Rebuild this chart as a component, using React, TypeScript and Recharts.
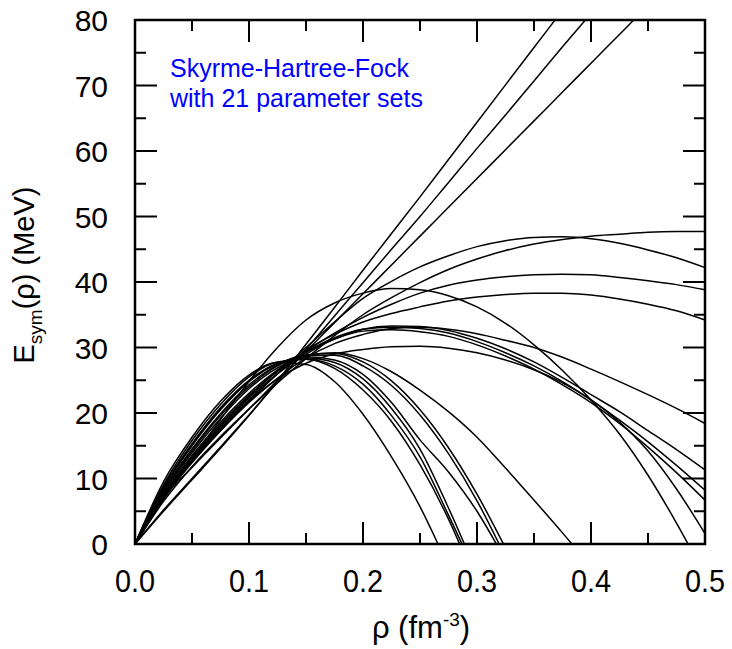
import { LineChart, Line, XAxis, YAxis, ReferenceArea } from "recharts"

// density grid (fm^-3)
const rho = [0, 0.025, 0.05, 0.075, 0.1, 0.125, 0.15, 0.175, 0.2, 0.225, 0.25, 0.275, 0.3, 0.325, 0.35, 0.375, 0.4, 0.425, 0.45, 0.475, 0.5]

// E_sym (MeV), one array per parameter set
const lineA = [0, 5, 9.8, 14.6, 19.6, 24.9, 30.5, 36.1, 41.8, 47.4, 53, 58.7, 64.4, 70.1, 75.8, 81.5, null, null, null, null, null]
const lineB = [0, 5.2, 10, 14.8, 19.7, 24.7, 29.7, 34.8, 39.9, 45, 50, 55.2, 60.4, 65.5, 70.7, 75.9, 81, null, null, null, null]
const lineC = [0, 7, 11.7, 16.2, 20.6, 25, 29.4, 33.8, 38.2, 42.6, 47, 51.4, 55.8, 60.2, 64.6, 69, 73.4, 77.8, 82.2, null, null]
const c1 = [0, 6.5, 11.8, 16.4, 20.6, 24.6, 28.3, 31.8, 35, 37.6, 39.9, 41.9, 43.5, 44.8, 45.8, 46.5, 47, 47.3, 47.6, 47.7, 47.7]
const c2 = [0, 6.9, 12.4, 17.3, 21.8, 26, 30, 33.9, 37.5, 40.1, 42.3, 44, 45.4, 46.3, 46.8, 46.9, 46.6, 45.9, 44.9, 43.7, 42.2]
const c3 = [0, 7, 12.7, 17.6, 22, 26, 29.4, 32.2, 34.6, 36.6, 38.3, 39.5, 40.3, 40.8, 41.1, 41.2, 41.1, 40.7, 40.2, 39.6, 38.8]
const c4 = [0, 7.2, 13, 18, 22.5, 26.4, 29.6, 32, 33.9, 35.2, 36.2, 37.1, 37.7, 38.1, 38.3, 38.3, 38, 37.4, 36.6, 35.6, 34.2]
const c5 = [0, 6.8, 13, 19, 24.8, 30, 34.2, 36.8, 38.3, 39, 38.8, 37.9, 36.2, 33.7, 30.4, 26.5, 22, 16.8, 10.5, 3.2, -4.8]
const m1 = [0, 7, 12.6, 17.3, 21.6, 25.3, 28.4, 30.6, 32, 32.9, 33.1, 32.8, 32.1, 31.1, 30, 28.5, 26.7, 24.8, 22.8, 20.7, 18.4]
const m2 = [0, 7.3, 13, 17.9, 22.3, 26, 29, 31.3, 32.8, 33.3, 33.2, 32.6, 31.4, 29.8, 27.8, 25.4, 22.8, 20.2, 17.3, 14.4, 11.3]
const m3 = [0, 7.5, 13.3, 18.3, 22.7, 26.4, 29.3, 31.5, 32.8, 33.1, 32.9, 32.2, 30.9, 29.2, 27.2, 24.8, 22, 18.9, 15.6, 12, 8.2]
const m4 = [0, 7.6, 13.5, 18.6, 23, 26.6, 29.3, 31.3, 32.5, 32.7, 32.4, 31.7, 30.4, 28.7, 26.7, 24.3, 21.6, 18.4, 14.8, 10.9, 6.7]
const m5 = [0, 7.2, 12.8, 17.6, 21.8, 25.2, 27.6, 29, 29.7, 30.1, 30.2, 29.9, 29.2, 28.1, 26.6, 24.6, 22, 18.6, 14.2, 8.4, 1.6]
const l1 = [0, 9.5, 16.3, 21.8, 25.8, 27.7, 27.4, 24.8, 19.8, 13.3, 5.7, -3.5, null, null, null, null, null, null, null, null, null]
const l2 = [0, 9, 15.8, 21.3, 25.5, 27.8, 28.2, 26.8, 23.5, 18.7, 12.1, 3.8, -6.3, null, null, null, null, null, null, null, null]
const l3 = [0, 8.7, 15.3, 20.8, 25, 27.5, 28.2, 27.2, 24.4, 19.6, 13.3, 4.4, -5, null, null, null, null, null, null, null, null]
const l4 = [0, 8.6, 15.1, 20.6, 24.9, 27.6, 28.4, 27.7, 25.2, 20.7, 14.5, 5.5, -4.5, null, null, null, null, null, null, null, null]
const l5 = [0, 8.5, 15, 20.5, 24.8, 27.5, 28.6, 28.1, 25.9, 21.6, 15.9, 11, 5, -2.5, null, null, null, null, null, null, null]
const l6 = [0, 8.2, 14.5, 19.9, 24.3, 27.3, 28.8, 28.8, 27.2, 24.2, 19.7, 13.8, 6.6, -2, null, null, null, null, null, null, null]
const l7 = [0, 8, 14.2, 19.6, 24, 27.2, 28.9, 29.1, 27.8, 24.9, 20.5, 14.7, 7.6, -0.6, null, null, null, null, null, null, null]
const l8 = [0, 7.8, 13.9, 19.2, 23.7, 26.9, 28.7, 29.2, 28.3, 26.3, 23.5, 20.2, 16.3, 11.6, 6.7, 1.7, -3.5, null, null, null, null]

const series = { lineA, lineB, lineC, c1, c2, c3, c4, c5, m1, m2, m3, m4, m5, l1, l2, l3, l4, l5, l6, l7, l8 }
const seriesKeys = Object.keys(series) as (keyof typeof series)[]

const xTicks = [0, 0.05, 0.1, 0.15, 0.2, 0.25, 0.3, 0.35, 0.4, 0.45, 0.5]
const yTicks = [0, 5, 10, 15, 20, 25, 30, 35, 40, 45, 50, 55, 60, 65, 70, 75, 80]

const data = rho.map((r, i) => {
  const row: Record<string, number | null> = { rho: r }
  seriesKeys.forEach((k) => { row[k] = series[k][i] })
  return row
})

// plot box in page pixels
const LEFT = 135
const RIGHT = 705
const TOP = 20
const BOTTOM = 544
const MAJOR = 22
const MINOR = 11
const FONT = "'Liberation Sans', Arial, sans-serif"

function XTick(props: any) {
  const { x, payload } = props
  const v = payload.value as number
  const major = Math.round(v * 100) % 10 === 0
  const len = major ? MAJOR : MINOR
  return (
    <g>
      <line x1={x} x2={x} y1={BOTTOM} y2={BOTTOM - len} stroke="#000" strokeWidth={2} />
      <line x1={x} x2={x} y1={TOP} y2={TOP + len} stroke="#000" strokeWidth={2} />
      {major && (
        <text x={x} y={592} textAnchor="middle" fontSize={32} fontFamily={FONT} fill="#000"
          transform={`translate(${x} 0) scale(0.9 1) translate(${-x} 0)`}>
          {v.toFixed(1)}
        </text>
      )}
    </g>
  )
}

function YTick(props: any) {
  const { y, payload } = props
  const v = payload.value as number
  const major = v % 10 === 0
  const len = major ? MAJOR : MINOR
  return (
    <g>
      <line x1={LEFT} x2={LEFT + len} y1={y} y2={y} stroke="#000" strokeWidth={2} />
      <line x1={RIGHT} x2={RIGHT - len} y1={y} y2={y} stroke="#000" strokeWidth={2} />
      {major && (
        <text x={108} y={y + 11} textAnchor="end" fontSize={30} fontFamily={FONT} fill="#000">
          {v}
        </text>
      )}
    </g>
  )
}

export default function App() {
  return (
    <div style={{ position: "absolute", left: 0, top: 0, width: 732, height: 649, background: "#fff" }}>
      <LineChart width={732} height={649} data={data} margin={{ top: TOP, right: 732 - RIGHT, bottom: 649 - BOTTOM - 30, left: LEFT - 60 }}>
        <XAxis type="number" dataKey="rho" domain={[0, 0.5]} ticks={xTicks} interval={0}
          tick={<XTick />} tickLine={false} axisLine={false} height={30} />
        <YAxis type="number" domain={[0, 80]} allowDataOverflow ticks={yTicks} interval={0}
          tick={<YTick />} tickLine={false} axisLine={false} width={60} />
        <ReferenceArea x1={0} x2={0.5} y1={0} y2={80} fill="none" stroke="#000" strokeWidth={2.5} />
        {seriesKeys.map((k) => (
          <Line key={k} type="monotone" dataKey={k} stroke="#000" strokeWidth={1.5}
            dot={false} activeDot={false} isAnimationActive={false} connectNulls={false} />
        ))}
      </LineChart>
      <svg width={732} height={649} style={{ position: "absolute", left: 0, top: 0, pointerEvents: "none" }}>
        <text x={170} y={77} fontSize={25} fontFamily={FONT} fill="#0000ff">Skyrme-Hartree-Fock</text>
        <text x={170} y={107} fontSize={25} fontFamily={FONT} fill="#0000ff">with 21 parameter sets</text>
        <text x={421} y={638} textAnchor="middle" fontSize={31} fontFamily={FONT} fill="#000">
          ρ (fm<tspan dy={-12} fontSize={19}>-3</tspan><tspan dy={12}>)</tspan>
        </text>
        <text transform="translate(34 275) rotate(-90)" textAnchor="middle" fontSize={29} fontFamily={FONT} fill="#000">
          E<tspan dy={8} fontSize={19}>sym</tspan><tspan dy={-8}>(ρ) (MeV)</tspan>
        </text>
      </svg>
    </div>
  )
}
